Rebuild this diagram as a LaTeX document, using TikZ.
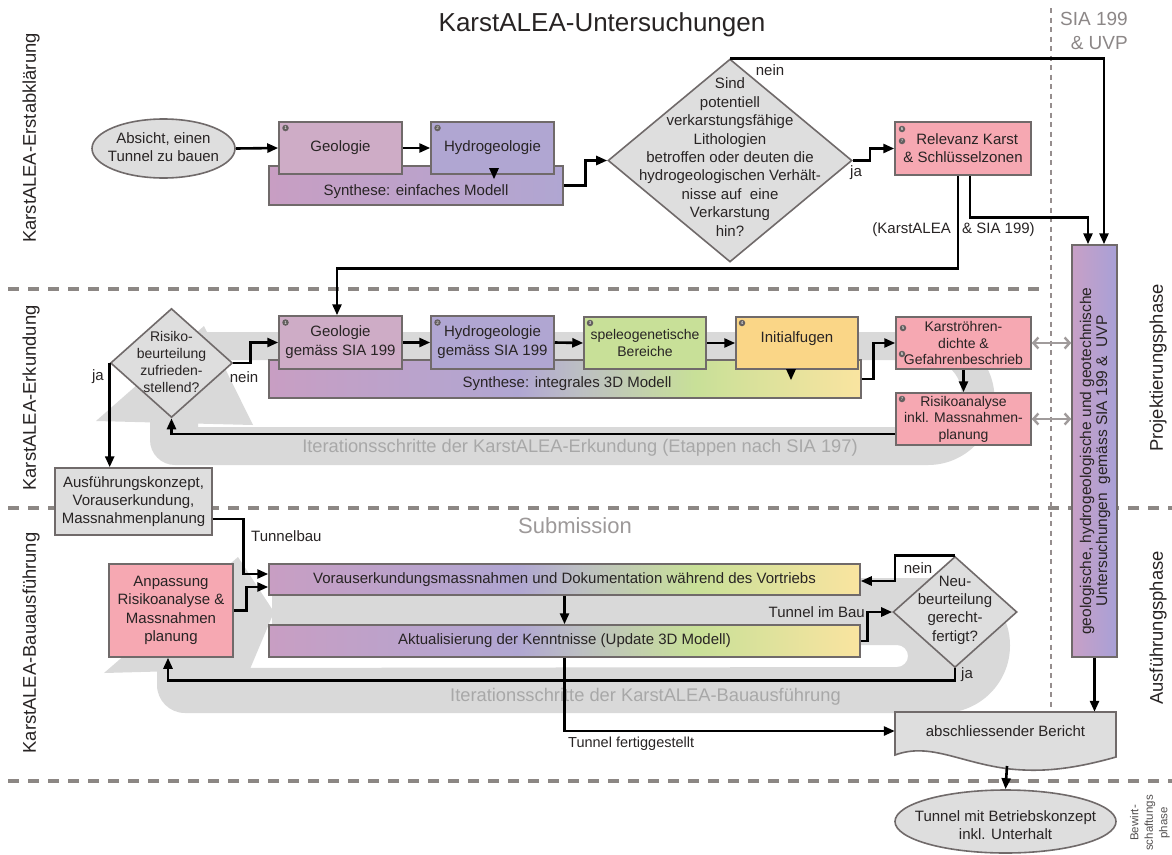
\documentclass[tikz,border=0pt]{standalone}
\usepackage{fontspec}
\setmainfont{Liberation Sans}
\usetikzlibrary{shapes.geometric,arrows.meta}
\definecolor{cgeo}{RGB}{206,172,198}
\definecolor{chyd}{RGB}{176,166,210}
\definecolor{cgrn}{RGB}{200,224,152}
\definecolor{cyel}{RGB}{250,214,135}
\definecolor{cyeltwo}{RGB}{250,228,160}
\definecolor{cred}{RGB}{246,168,178}
\definecolor{cgry}{RGB}{222,222,222}
\definecolor{cbrd}{RGB}{112,106,106}
\definecolor{cloop}{RGB}{217,217,217}
\definecolor{cloopt}{RGB}{168,168,168}
\definecolor{cdash}{RGB}{140,135,132}
\definecolor{cdot}{RGB}{150,142,142}
\definecolor{ctxt}{RGB}{40,36,36}
\definecolor{csyn}{RGB}{200,158,195}
\definecolor{cmid}{RGB}{188,190,196}
\definecolor{cpua}{RGB}{200,160,198}
\definecolor{cpub}{RGB}{168,160,215}
\definecolor{cgarr}{RGB}{160,155,155}
\definecolor{cmk}{RGB}{100,95,95}
\definecolor{csia}{RGB}{140,135,135}
\pgfdeclarehorizontalshading{shA}{100bp}{color(0bp)=(csyn); color(25bp)=(csyn); color(75bp)=(chyd); color(100bp)=(chyd)}
\pgfdeclarehorizontalshading{shB}{100bp}{color(0bp)=(csyn); color(25bp)=(csyn); color(46bp)=(chyd); color(51bp)=(cmid); color(61bp)=(cgrn); color(75bp)=(cyeltwo); color(100bp)=(cyeltwo)}
\pgfdeclarehorizontalshading{shC}{100bp}{color(0bp)=(cpua); color(25bp)=(cpua); color(75bp)=(cpub); color(100bp)=(cpub)}
\newcommand\fz[2]{\fontsize{#1}{#2}\selectfont}
\begin{document}
\begin{tikzpicture}[x=1pt,y=-1pt,
  bx/.style={draw=cbrd, line width=1.5pt, inner sep=0pt, align=center, text=ctxt},
  dia/.style={shape=diamond, draw=cbrd, fill=cgry, line width=1.6pt, inner sep=0pt},
  ell/.style={shape=ellipse, draw=cbrd, fill=cgry, line width=1.6pt, inner sep=0pt},
  txt/.style={align=center, text=ctxt, inner sep=0pt},
  arr/.style={draw=black, line width=2.6pt, -{Triangle[length=11pt,width=9pt]}},
  garr/.style={draw=cgarr, line width=2.4pt, {Straight Barb[length=5pt,width=11pt]}-{Straight Barb[length=5pt,width=11pt]}},
  phase/.style={draw=cdash, line width=4.3pt, dash pattern=on 11pt off 9pt},
  mk/.style={circle, fill=cmk, inner sep=0pt, minimum size=6.5pt, text=white, font=\fz{4.5}{5}},
  lbl/.style={text=ctxt, inner sep=0pt, font=\fz{15}{18}},
  side/.style={text=ctxt, inner sep=0pt, rotate=90, font=\fz{18.4}{21}},
]
\useasboundingbox (0,0) rectangle (1172,854);
\fill[white] (0,0) rectangle (1172,854);

% iteration loops
\fill[cloop] (205,332) -- (928,332) arc[start angle=-90,end angle=90,radius=66.5] -- (175,465) arc[start angle=90,end angle=180,radius=25] -- (150,422) -- (198,422) -- (198,427) -- (928,427) arc[start angle=90,end angle=-90,radius=33.5] -- (205,360) -- cycle;
\fill[cloop] (96,421) -- (204,326) -- (253,425) -- cycle;
\fill[cloop] (272,578) -- (942.5,578) arc[start angle=-90,end angle=90,radius=67.5] -- (185,713) arc[start angle=90,end angle=180,radius=28] -- (157,668) -- (200,668) -- (897,667) arc[start angle=90,end angle=-90,radius=11] -- (272,645) -- cycle;
\fill[cloop] (104,673) -- (238,557) -- (274,612) -- (250,669) -- cycle;
\node[text=cloopt, font=\fz{18.3}{21}, inner sep=0pt] (it1) at (580,448) {Iterationsschritte der KarstALEA-Erkundung (Etappen nach SIA 197)};
\node[text=cloopt, font=\fz{18.3}{21}, inner sep=0pt] (it2) at (645.5,697) {Iterationsschritte der KarstALEA-Bauausführung};

% phase separators
\draw[phase] (8,289) -- (1048,289);
\draw[phase] (8,508) -- (1172,508);
\draw[phase] (8,781) -- (1172,781);
\draw[draw=cdot, line width=2.2pt, dash pattern=on 5pt off 4.5pt] (1051,8) -- (1051,712);

% titles and side labels
\node[text=ctxt, inner sep=0pt, font=\fz{26}{30}] (title) at (602,25) {KarstALEA-Untersuchungen};
\node[text=csia, inner sep=0pt, font=\fz{19}{24}, align=right, anchor=east] (sia) at (1128,31) {SIA 199\\\& UVP};
\node[text=csia!85, inner sep=0pt, font=\fz{22}{26}] (subm) at (575,526) {Submission};
\node[side] (s1) at (31,138) {KarstALEA-Erstabklärung};
\node[side] (s2) at (31,398) {KarstALEA-Erkundung};
\node[side] (s3) at (31,643) {KarstALEA-Bauausführung};
\node[side] (s4) at (1158,368) {Projektierungsphase};
\node[side] (s5) at (1158,628) {Ausführungsphase};
\node[text=ctxt!80, inner sep=0pt, rotate=90, align=center, font=\fz{11.5}{14.5}] (s6) at (1150,823) {Bewirt-\\schaftungs\\phase};

% row 1
\node[ell, minimum width=143pt, minimum height=59pt] (e1) at (163.5,148.5) {};
\node[txt, font=\fz{15}{18}] (e1t) at (163.5,147.5) {Absicht, einen\\Tunnel zu bauen};
\node[bx, shade, shading=shA, minimum width=294pt, minimum height=39pt] (syn1) at (416,185.5) {};
\node[bx, fill=cgeo, minimum width=123pt, minimum height=52pt, font=\fz{15}{18}] (geo1) at (340.5,148) {Geologie};
\node[bx, fill=chyd, minimum width=123pt, minimum height=52pt, font=\fz{15}{18}] (hyd1) at (492.5,148) {Hydrogeologie};
\node[txt, font=\fz{15}{18}] (syn1t) at (416,192) {Synthese: einfaches Modell};
\fill (489,168) -- (499,168) -- (494,179) -- cycle;
\node[dia, minimum width=244pt, minimum height=203pt] (d1) at (730,160.5) {};
\node[txt, font=\fz{15}{18.4}] (d1t) at (730,157) {Sind\\potentiell\\verkarstungsfähige\\Lithologien\\betroffen oder deuten die\\hydrogeologischen Verhält-\\nisse auf\ \ eine\\Verkarstung\\hin?};
\node[bx, fill=cred, minimum width=136pt, minimum height=53pt, font=\fz{15}{18}] (rel) at (963,148.5) {\ \ Relevanz Karst\\\& Schlüsselzonen};
\node[bx, shade, shading=shC, minimum width=45pt, minimum height=412pt] (pur) at (1094.5,451) {};
\node[txt, rotate=90, font=\fz{15.5}{16}] (purt) at (1095,461) {geologische, hydrogeologische und geotechnische\\Untersuchungen\ \ gemäss SIA 199 \&\ \ UVP};

% row 2
\node[dia, minimum width=122pt, minimum height=109pt] (rd) at (171.5,363) {};
\node[txt, font=\fz{14}{17}] (rdt) at (171.5,362) {Risiko-\\beurteilung\\zufrieden-\\stellend?};
\node[bx, shade, shading=shB, minimum width=592pt, minimum height=38pt] (syn2) at (565,379) {};
\node[bx, fill=cgeo, minimum width=123pt, minimum height=53pt, font=\fz{15}{19}] (geo2) at (340.5,342.5) {Geologie\\gemäss SIA 199};
\node[bx, fill=chyd, minimum width=123pt, minimum height=53pt, font=\fz{15}{19}] (hyd2) at (492.5,342.5) {Hydrogeologie\\gemäss SIA 199};
\node[bx, fill=cgrn, minimum width=122pt, minimum height=52pt, font=\fz{14}{17}] (spe) at (645,343) {speleogenetische\\Bereiche};
\node[bx, fill=cyel, minimum width=122pt, minimum height=52pt] (ini) at (797,343) {};
\node[txt, font=\fz{15}{18}] (init) at (797,339) {Initialfugen};
\node[txt, font=\fz{15}{18}] (syn2t) at (567,383.5) {Synthese: integrales 3D Modell};
\fill (786,369) -- (796,369) -- (791,380) -- cycle;
\node[bx, fill=cred, minimum width=135pt, minimum height=52pt, font=\fz{14}{16.5}] (kar) at (963.5,343) {Karströhren-\\dichte \&\\Gefahrenbeschrieb};
\node[bx, fill=cred, minimum width=135pt, minimum height=52pt, font=\fz{14}{16.5}] (ris) at (963.5,419) {Risikoanalyse\\inkl. Massnahmen-\\planung};
\node[bx, fill=cgry, minimum width=157pt, minimum height=67pt, font=\fz{15}{18}] (aus) at (133.5,501.5) {Ausführungskonzept,\\Vorauserkundung,\\Massnahmenplanung};

% row 3
\node[bx, fill=cred, minimum width=124pt, minimum height=93pt, font=\fz{15}{18.3}] (anp) at (171,610.5) {Anpassung\\Risikoanalyse \&\\Massnahmen\\planung};
\node[bx, shade, shading=shB, minimum width=591pt, minimum height=31pt, font=\fz{15}{18}] (vor) at (564.5,579.5) {Vorauserkundungsmassnahmen und Dokumentation während des Vortriebs};
\node[bx, shade, shading=shB, minimum width=591pt, minimum height=32pt, font=\fz{15}{18}] (akt) at (564.5,641) {Aktualisierung der Kenntnisse (Update 3D Modell)};
\node[dia, minimum width=124pt, minimum height=111pt] (nd) at (955,612) {};
\node[txt, font=\fz{15}{18.3}] (ndt) at (955,610) {Neu-\\beurteilung\\gerecht-\\fertigt?};
\draw[draw=cbrd, fill=cgry, line width=1.6pt] (895,712) -- (1116,712) -- (1116,757) .. controls (1070,770) and (1040,772) .. (1010,769) .. controls (960,763) and (930,742) .. (895,755) -- cycle;
\node[txt, minimum width=221pt, minimum height=38pt, font=\fz{15}{18}] (ber) at (1005.5,731) {abschliessender Bericht};
\coordinate (berb) at (1007,766);
\node[ell, minimum width=221pt, minimum height=63pt] (tun) at (1005.5,821.5) {};
\node[txt, font=\fz{15}{18}] (tunt) at (1005.5,825) {Tunnel mit Betriebskonzept\\inkl. Unterhalt};

% number markers
\node[mk] (m1) at (285.5,128) {1};
\node[mk] (m2) at (437.5,128) {2};
\node[mk] (m3) at (285.5,322.5) {1};
\node[mk] (m4) at (437.5,322.5) {2};
\node[mk] (m5) at (590,323) {3};
\node[mk] (m6) at (742,323) {4};
\node[mk] (m7) at (903,328) {5};
\node[mk] (m8) at (902,354) {6};
\node[mk] (m9) at (902,399) {7};
\node[mk] (m10) at (902,129) {6};
\node[mk] (m11) at (902,141) {7};

% connectors
\draw[arr] (e1.east) -- (geo1.west);
\draw[arr] (geo1.east) -- (hyd1.west);
\draw[arr] (syn1.east) -- ++(22,0) |- (d1.west);
\draw[arr] (d1.north) -| ([xshift=9.5pt]pur.north);
\draw[arr] (d1.east) -- ++(17,0) |- (rel.west);
\draw[arr] ([xshift=7pt]rel.south) -- ++(0,42) -| ([xshift=-6.5pt]pur.north);
\draw[arr] ([xshift=-5pt]rel.south) -- ++(0,93) -| ([xshift=-3.5pt]geo2.north);
\draw[arr] (rd.east) -- ++(17,0) |- (geo2.west);
\draw[arr] (geo2.east) -- (hyd2.west);
\draw[arr] (hyd2.east) -- (spe.west);
\draw[arr] (spe.east) -- (ini.west);
\draw[arr] (syn2.east) -- ++(12,0) |- (kar.west);
\draw[arr] (kar.south) -- (ris.north);
\draw[arr] (ris.west) ++(0,15) -| (rd.south);
\draw[arr] (rd.west) -- (rd.west |- aus.north);
\draw[arr] (aus.east) ++(0,17.5) -- ++(31,0) |- ([yshift=5.5pt]vor.west);
\draw[arr] (anp.east) -- ++(13,0) |- ([yshift=-7.5pt]vor.west);
\draw[arr] (vor.south) -- (akt.north);
\draw[arr] (akt.east) -- ++(7,0) |- (nd.west);
\draw[arr] (nd.north) -- ++(-60,0) |- ([yshift=-1.5pt]vor.east);
\draw[arr] (nd.south) -- ++(0,12) -| ([xshift=-3pt]anp.south);
\draw[arr] (akt.south) |- (ber.west);
\draw[arr] (pur.south) -- (pur.south |- ber.north);
\draw[arr] (berb) -- (tun.north);
\draw[garr] (kar.east) -- (kar.east -| pur.west);
\draw[garr] (ris.east) -- (ris.east -| pur.west);

% connector labels
\node[lbl] (l1) at (770,70) {nein};
\node[lbl] (l2) at (856,173) {ja};
\node[lbl, anchor=east] (l3) at (951,230) {(KarstALEA};
\node[lbl, anchor=west] (l4) at (962,230) {\& SIA 199)};
\node[lbl] (l5) at (244,377) {nein};
\node[lbl] (l6) at (98,377) {ja};
\node[lbl, anchor=west] (l7) at (251,536) {Tunnelbau};
\node[lbl, anchor=east] (l8) at (865,612) {Tunnel im Bau};
\node[lbl] (l9) at (918,568) {nein};
\node[lbl] (l10) at (967,675) {ja};
\node[lbl, anchor=west, font=\fz{14.5}{17}] (l11) at (568,744) {Tunnel fertiggestellt};
\end{tikzpicture}
\end{document}
